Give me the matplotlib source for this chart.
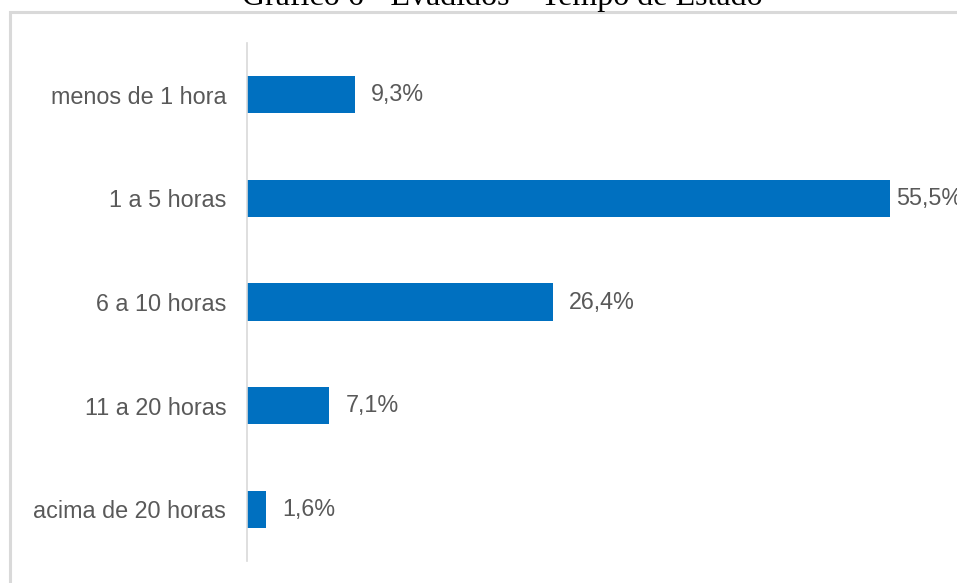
import matplotlib.pyplot as plt
from matplotlib.patches import Rectangle

categories = ['menos de 1 hora', '1 a 5 horas', '6 a 10 horas', '11 a 20 horas', 'acima de 20 horas']
values = [9.3, 55.5, 26.4, 7.1, 1.6]
labels = ['9,3%', '55,5%', '26,4%', '7,1%', '1,6%']
title = 'Gráfico 6 - Evadidos – Tempo de Estado'

W, H = 957, 583
fig = plt.figure(figsize=(W / 100, H / 100), dpi=100)
plt.rcParams['font.family'] = ['Liberation Sans', 'DejaVu Sans']

# outer chart frame (cut off at right/bottom like the screenshot)
fig.patches.append(Rectangle((10 / W, -0.1), 1.2, 1.1 - 12 / H,
                             transform=fig.transFigure, fill=False,
                             edgecolor='#d9d9d9', linewidth=2.2))

ax = fig.add_axes([247 / W, (H - 561) / H, (W - 247) / W, (561 - 43) / H])
ax.barh(range(len(categories)), values, height=0.36, color='#0070C0')
ax.set_ylim(len(categories) - 0.5, -0.5)
ax.set_xlim(0, (W - 247) / 11.59)
ax.set_yticks(range(len(categories)))
ax.set_yticklabels(categories, fontsize=16.8, color='#595959')
ax.tick_params(axis='y', length=0, pad=15)
ax.set_xticks([])
for s in ['top', 'right', 'bottom']:
    ax.spines[s].set_visible(False)
ax.spines['left'].set_color('#d9d9d9')
ax.spines['left'].set_linewidth(1.2)

for i, (v, lab) in enumerate(zip(values, labels)):
    # the largest label is squeezed against its bar to fit the frame
    gap = 0.5 if v == max(values) else 1.4
    ax.text(v + gap, i, lab, va='center', ha='left', fontsize=16.8,
            color='#595959', clip_on=False)

fig.text(502 / W, 1 - 5 / H, title, ha='center', va='baseline',
         fontsize=23, family='Liberation Serif', color='black')

fig.savefig('out.png', dpi=100)
